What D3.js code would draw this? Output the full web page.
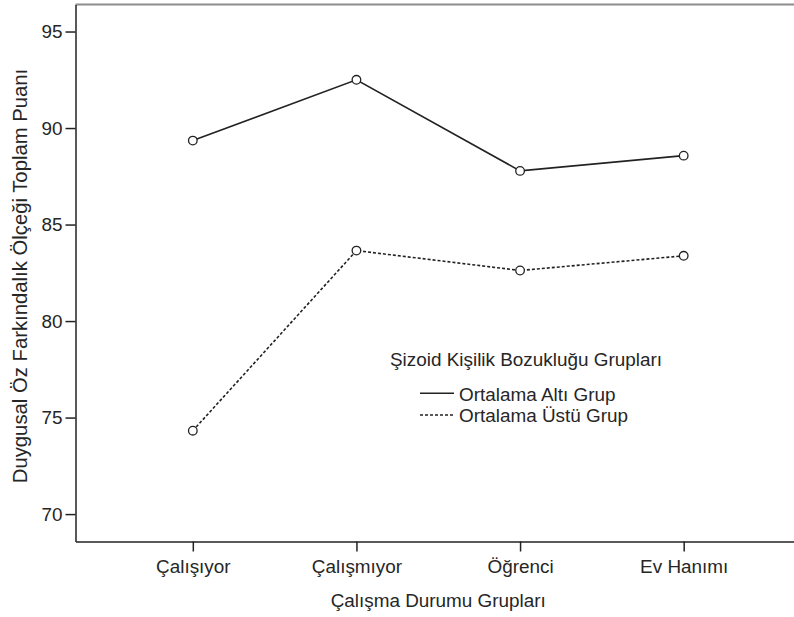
<!DOCTYPE html>
<html>
<head>
<meta charset="utf-8">
<script src="https://cdn.jsdelivr.net/npm/d3@7"></script>
<style>
  html, body { margin: 0; padding: 0; background: #fff; }
  svg text { font-family: "Liberation Sans", Arial, sans-serif; fill: #262626; }
</style>
</head>
<body>
<svg id="chart" width="794" height="617"></svg>
<script>
const categories = ["Çalışıyor", "Çalışmıyor", "Öğrenci", "Ev Hanımı"];
const altiGrup = [89.35, 92.5, 87.78, 88.57];
const ustuGrup = [74.32, 83.65, 82.62, 83.38];
const yTicks = [70, 75, 80, 85, 90, 95];
const seriesNames = ["Ortalama Altı Grup", "Ortalama Üstü Grup"];
const legendTitle = "Şizoid Kişilik Bozukluğu Grupları";
const xTitle = "Çalışma Durumu Grupları";
const yTitle = "Duygusal Öz Farkındalık Ölçeği Toplam Puanı";

const svg = d3.select("#chart");
const mLeft = 75.5, mRight = 801, mTop = 4.5, mBottom = 541.5;

const x = d3.scalePoint().domain(categories).range([mLeft, mRight]).padding(0.717);
const y = d3.scaleLinear().domain([68.58, 96.4]).range([mBottom, mTop]);

// frame top (gray)
svg.append("line").attr("x1", mLeft).attr("x2", mRight).attr("y1", mTop).attr("y2", mTop)
  .attr("stroke", "#8c8c8c").attr("stroke-width", 2);

const fontSize = 18.9;

// y axis
const yAxis = svg.append("g").attr("transform", `translate(${mLeft},0)`)
  .call(d3.axisLeft(y).tickValues(yTicks).tickSize(10).tickPadding(3).tickSizeOuter(0));
yAxis.select(".domain").attr("stroke", "#222").attr("stroke-width", 1.5);
yAxis.selectAll(".tick line").attr("stroke", "#222").attr("stroke-width", 1.5);
yAxis.selectAll(".tick text").attr("font-size", fontSize).attr("font-family", "Liberation Sans, Arial, sans-serif").attr("fill", "#262626");

// x axis
const xAxis = svg.append("g").attr("transform", `translate(0,${mBottom})`)
  .call(d3.axisBottom(x).tickSize(10).tickPadding(8).tickSizeOuter(0));
xAxis.select(".domain").attr("stroke", "#222").attr("stroke-width", 1.5);
xAxis.selectAll(".tick line").attr("stroke", "#222").attr("stroke-width", 1.5);
xAxis.selectAll(".tick text").attr("font-size", fontSize).attr("font-family", "Liberation Sans, Arial, sans-serif").attr("fill", "#262626");

// axis titles
svg.append("text").attr("x", (mLeft + mRight) / 2).attr("y", 607)
  .attr("text-anchor", "middle").attr("font-size", fontSize).text(xTitle);
svg.append("text").attr("transform", `translate(27,276) rotate(-90)`)
  .attr("text-anchor", "middle").attr("font-size", 20.3).text(yTitle);

// lines
const line = d3.line().x((d, i) => x(categories[i])).y(d => y(d));
const series = [
  { name: seriesNames[0], values: altiGrup, dash: null },
  { name: seriesNames[1], values: ustuGrup, dash: "3,2" }
];
series.forEach(s => {
  svg.append("path").datum(s.values).attr("d", line)
    .attr("fill", "none").attr("stroke", "#222").attr("stroke-width", 1.6)
    .attr("stroke-dasharray", s.dash);
  svg.append("g").selectAll("circle").data(s.values).join("circle")
    .attr("cx", (d, i) => x(categories[i])).attr("cy", d => y(d)).attr("r", 4.3)
    .attr("fill", "#fff").attr("stroke", "#222").attr("stroke-width", 1.3);
});

// legend
svg.append("text").attr("x", 390).attr("y", 366).attr("font-size", fontSize).text(legendTitle);
series.forEach((s, i) => {
  const ly = 393.3 + i * 21.7;
  svg.append("line").attr("x1", 420).attr("x2", 454).attr("y1", ly).attr("y2", ly)
    .attr("stroke", "#222").attr("stroke-width", 1.6).attr("stroke-dasharray", s.dash);
  svg.append("text").attr("x", 459).attr("y", ly + 7.4).attr("font-size", fontSize).text(s.name);
});
</script>
</body>
</html>
